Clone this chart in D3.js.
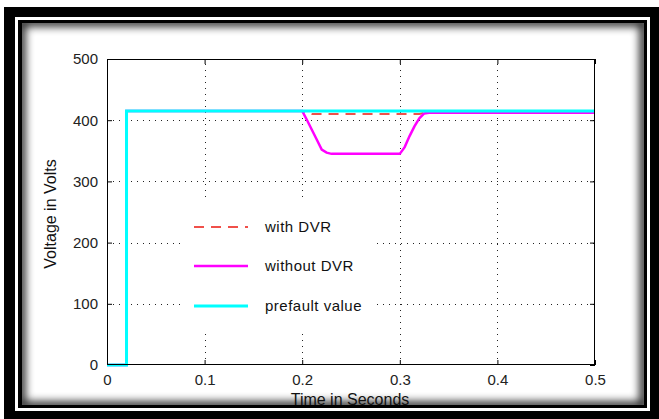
<!DOCTYPE html>
<html>
<head>
<meta charset="utf-8">
<script src="https://cdn.jsdelivr.net/npm/d3@7"></script>
<style>
  html, body { margin: 0; padding: 0; background: #fff; }
  svg { display: block; font-family: "Liberation Sans", Arial, sans-serif; }
</style>
</head>
<body>
<svg id="chart" width="659" height="419"></svg>
<script>
// Load voltage (V) against time (s)
const xTicks = [0, 0.1, 0.2, 0.3, 0.4, 0.5];
const yTicks = [0, 100, 200, 300, 400, 500];

const seriesNames = ["with DVR", "without DVR", "prefault value"];

const withDvrTime    = [0, 0.02, 0.02, 0.2, 0.205, 0.21, 0.32, 0.325, 0.5];
const withDvrVolts   = [0, 0, 415, 415, 412, 410, 410, 412, 412];

const withoutDvrTime  = [0, 0.02, 0.02, 0.2, 0.205, 0.21, 0.215, 0.22, 0.225, 0.23, 0.3, 0.305, 0.31, 0.315, 0.32, 0.325, 0.33, 0.5];
const withoutDvrVolts = [0, 0, 415, 415, 400, 384, 368, 352, 347, 345, 345, 356, 374, 390, 403, 411, 412, 412];

const prefaultTime  = [0, 0.02, 0.02, 0.5];
const prefaultVolts = [0, 0, 415, 415];

const svg = d3.select("#chart");
const W = 659, H = 419;

// ---- decorative double frame with inner shadow ----
const defs = svg.append("defs");
defs.append("filter").attr("id", "soft")
  .attr("x", "-10%").attr("y", "-10%").attr("width", "120%").attr("height", "120%")
  .append("feGaussianBlur").attr("stdDeviation", 4);
defs.append("clipPath").attr("id", "inner")
  .append("rect").attr("x", 22).attr("y", 23).attr("width", 622).attr("height", 382);

svg.append("rect").attr("width", W).attr("height", H).attr("fill", "#fff");
svg.append("rect").attr("x", 4).attr("y", 7).attr("width", 655).attr("height", 412).attr("fill", "#000");
svg.append("rect").attr("x", 15).attr("y", 17).attr("width", 635).attr("height", 394).attr("fill", "#fff");
svg.append("rect").attr("x", 18).attr("y", 20).attr("width", 629).attr("height", 388).attr("fill", "#000");
svg.append("rect").attr("x", 22).attr("y", 23).attr("width", 622).attr("height", 382).attr("fill", "#fff");
svg.append("g").attr("clip-path", "url(#inner)")
  .append("rect").attr("x", 21).attr("y", 22).attr("width", 623).attr("height", 384)
  .attr("fill", "none").attr("stroke", "#000").attr("stroke-width", 9)
  .attr("opacity", 0.85).attr("filter", "url(#soft)");

// ---- plot area ----
const pLeft = 107, pRight = 595, pTop = 59, pBottom = 365;
const x = d3.scaleLinear().domain([0, 0.5]).range([pLeft, pRight]);
const y = d3.scaleLinear().domain([0, 500]).range([pBottom, pTop]);

svg.append("rect").attr("x", pLeft).attr("y", pTop)
  .attr("width", pRight - pLeft).attr("height", pBottom - pTop).attr("fill", "#fff");

// dotted grid
const grid = svg.append("g").attr("stroke", "#222").attr("stroke-width", 1)
  .attr("stroke-dasharray", "1,5").attr("shape-rendering", "crispEdges");
grid.selectAll(".gx").data(xTicks.slice(1, -1)).join("line")
  .attr("x1", d => Math.round(x(d)) + 0.5).attr("x2", d => Math.round(x(d)) + 0.5)
  .attr("y1", pBottom).attr("y2", pTop);
grid.selectAll(".gy").data(yTicks.slice(1, -1)).join("line")
  .attr("y1", d => Math.round(y(d)) + 0.5).attr("y2", d => Math.round(y(d)) + 0.5)
  .attr("x1", pLeft).attr("x2", pRight);

// axes with inward ticks on all four sides
const tickLen = 5;
const axisStyle = g => {
  g.select(".domain").remove();
  g.selectAll(".tick line").attr("stroke", "#000");
  g.selectAll(".tick text").attr("fill", "#222").attr("font-size", 15);
};
svg.append("g").attr("transform", `translate(0,${pBottom})`)
  .call(d3.axisBottom(x).tickValues(xTicks).tickSize(-tickLen).tickPadding(9)
    .tickFormat(d => d === 0 ? "0" : d3.format(".1f")(d)))
  .call(axisStyle);
svg.append("g").attr("transform", `translate(0,${pTop})`)
  .call(d3.axisTop(x).tickValues(xTicks).tickSize(-tickLen).tickFormat(""))
  .call(axisStyle);
svg.append("g").attr("transform", `translate(${pLeft},0)`)
  .call(d3.axisLeft(y).tickValues(yTicks).tickSize(-tickLen).tickPadding(9))
  .call(axisStyle);
svg.append("g").attr("transform", `translate(${pRight},0)`)
  .call(d3.axisRight(y).tickValues(yTicks).tickSize(-tickLen).tickFormat(""))
  .call(axisStyle);

// series
const line = d3.line().x(d => x(d[0])).y(d => y(d[1]));
const zip = (t, v) => t.map((ti, i) => [ti, v[i]]);
const series = [
  { name: seriesNames[0], data: zip(withDvrTime, withDvrVolts), color: "#f0504a", width: 2, dash: "10,7" },
  { name: seriesNames[1], data: zip(withoutDvrTime, withoutDvrVolts), color: "#ff00ff", width: 2.5, dash: null },
  { name: seriesNames[2], data: zip(prefaultTime, prefaultVolts), color: "#00ffff", width: 3, dash: null }
];
svg.append("g").selectAll("path").data(series).join("path")
  .attr("d", d => line(d.data))
  .attr("fill", "none")
  .attr("stroke", d => d.color)
  .attr("stroke-width", d => d.width)
  .attr("stroke-dasharray", d => d.dash);

// box outline
svg.append("rect").attr("x", pLeft + 0.5).attr("y", pTop + 0.5)
  .attr("width", pRight - pLeft - 1).attr("height", pBottom - pTop - 1)
  .attr("fill", "none").attr("stroke", "#000").attr("stroke-width", 1);

// legend (no border, white fill)
const legend = svg.append("g");
legend.append("rect").attr("x", 183).attr("y", 199).attr("width", 194).attr("height", 132).attr("fill", "#fff");
const rowY = [227, 266, 306];
const items = legend.selectAll(".item").data(series).join("g")
  .attr("transform", (d, i) => `translate(0,${rowY[i]})`);
items.append("line").attr("x1", 194).attr("x2", 248).attr("y1", 0).attr("y2", 0)
  .attr("stroke", d => d.color).attr("stroke-width", d => d.width)
  .attr("stroke-dasharray", d => d.dash);
items.append("text").attr("x", 265).attr("y", 5).attr("font-size", 15)
  .attr("letter-spacing", 0.5).attr("fill", "#111").text(d => d.name);

// axis titles
svg.append("text").attr("x", 350).attr("y", 405).attr("text-anchor", "middle")
  .attr("font-size", 16).attr("fill", "#111").text("Time in Seconds");
svg.append("text").attr("transform", "translate(56,214) rotate(-90)")
  .attr("text-anchor", "middle").attr("font-size", 16).attr("fill", "#111").text("Voltage in Volts");
</script>
</body>
</html>
